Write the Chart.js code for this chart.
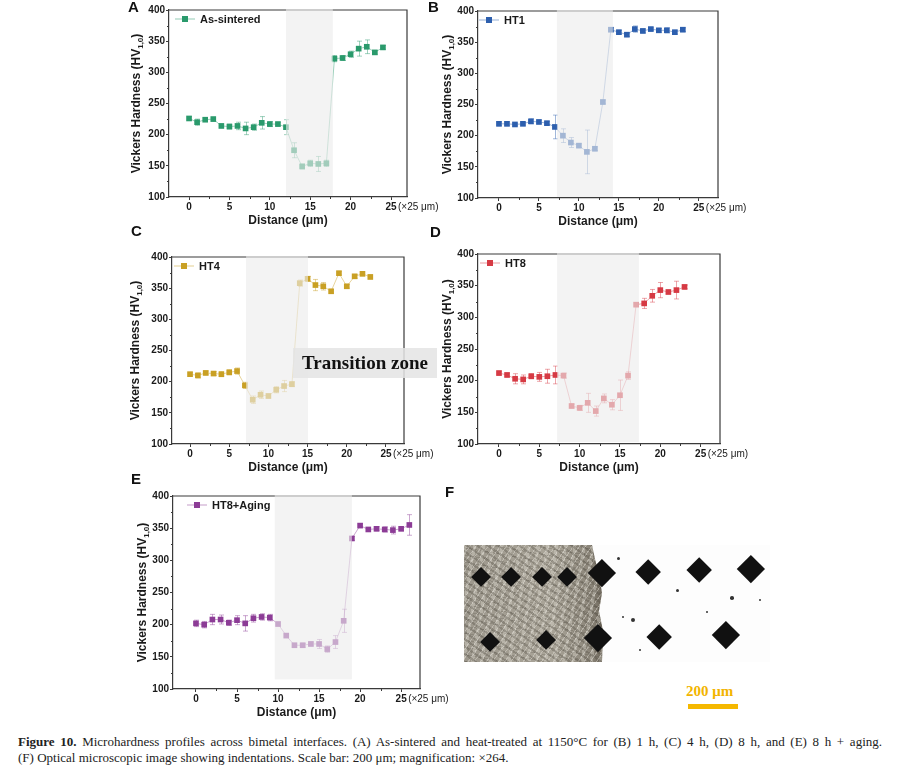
<!DOCTYPE html>
<html>
<head>
<meta charset="utf-8">
<script src="https://cdn.jsdelivr.net/npm/chart.js@4.4.1/dist/chart.umd.min.js"></script>
<style>
html,body{margin:0;padding:0;background:#fff;}
body{width:901px;height:781px;position:relative;overflow:hidden;font-family:"Liberation Sans",Arial,sans-serif;}
canvas{position:absolute;}
.letter{position:absolute;font:bold 15px "Liberation Sans",Arial,sans-serif;color:#111;line-height:15px;}
#tz{position:absolute;left:293px;top:348px;width:144px;height:30px;background:rgba(228,228,228,0.85);
	font:bold 19px "Liberation Serif","Times New Roman",serif;color:#111;line-height:30px;text-align:center;z-index:5;}
#micro{position:absolute;left:464px;top:545px;width:306px;height:117px;background:#fdfdfd;overflow:hidden;}
#steel{position:absolute;left:0;top:0;width:145px;height:117px;
	clip-path:polygon(0 0,128px 0,131px 14px,135px 30px,138px 48px,135px 66px,139px 86px,138px 117px,0 117px);
	background:
		repeating-linear-gradient(35deg,rgba(70,65,55,.28) 0 2px,transparent 2px 6px),
		repeating-linear-gradient(-55deg,rgba(235,232,225,.4) 0 1px,transparent 1px 5px),
		repeating-linear-gradient(100deg,rgba(225,222,212,.35) 0 3px,transparent 3px 9px),
		repeating-linear-gradient(10deg,rgba(80,75,65,.22) 0 1px,transparent 1px 7px),
		linear-gradient(90deg,#9c978c 0%,#aaa599 60%,#8a8478 88%,#5e574b 100%);}
.dia{position:absolute;background:#111;transform:rotate(45deg);}
.speck{position:absolute;background:#333;border-radius:50%;}
#sbText{position:absolute;left:686px;top:683px;font:bold 15px "Liberation Serif","Times New Roman",serif;color:#f2b400;}
#sbBar{position:absolute;left:688px;top:704px;width:50px;height:5px;background:#f5b800;}
.cap{position:absolute;left:18px;font:13px "Liberation Serif","Times New Roman",serif;color:#222;line-height:16px;white-space:nowrap;}
#cap1{top:734px;width:864px;text-align:justify;text-align-last:justify;white-space:normal;}
#cap2{top:750px;}
</style>
</head>
<body>
<canvas id="cA" width="330" height="232" style="left:122px;top:0px"></canvas>
<canvas id="cB" width="330" height="232" style="left:428px;top:0px"></canvas>
<canvas id="cC" width="325" height="240" style="left:122px;top:240px"></canvas>
<canvas id="cD" width="330" height="240" style="left:428px;top:240px"></canvas>
<canvas id="cE" width="340" height="245" style="left:122px;top:480px"></canvas>

<div class="letter" style="left:128px;top:-1px">A</div>
<div class="letter" style="left:428px;top:-1px">B</div>
<div class="letter" style="left:131px;top:223px">C</div>
<div class="letter" style="left:430px;top:224px">D</div>
<div class="letter" style="left:131px;top:471px">E</div>
<div class="letter" style="left:445px;top:484px">F</div>

<div id="tz">Transition zone</div>

<div id="micro"><div id="steel"></div></div>
<div id="sbText">200 μm</div>
<div id="sbBar"></div>

<div class="cap" id="cap1"><b>Figure 10.</b> Microhardness profiles across bimetal interfaces. (A) As-sintered and heat-treated at 1150°C for (B) 1 h, (C) 4 h, (D) 8 h, and (E) 8 h + aging.</div>
<div class="cap" id="cap2">(F) Optical microscopic image showing indentations. Scale bar: 200 μm; magnification: ×264.</div>

<script>
// Microhardness profiles, five panels
const xTicks = [0, 5, 10, 15, 20, 25];
const xMinor = [2.5, 7.5, 12.5, 17.5, 22.5];
const yTicks = [100, 150, 200, 250, 300, 350, 400];
const yMinor = [125, 175, 225, 275, 325, 375];

// (A) As-sintered
const distA = [0,1,2,3,4,5,6,7,8,9,10,11,12,13,14,15,16,17,18,19,20,21,22,23,24];
const hvA   = [226,220,224,225,214,213,214,210,212,219,217,217,212,175,149,154,153,154,322,323,329,338,341,332,340];
const errA  = [3,5,3,3,3,4,6,10,5,10,4,3,12,12,4,5,12,5,5,4,5,12,11,3,3];
const bandA = [12.0, 17.8, 102];

// (B) HT1
const distB = [0,1,2,3,4,5,6,7,8,9,10,11,12,13,14,15,16,17,18,19,20,21,22,23];
const hvB   = [219,219,218,219,223,222,220,214,200,189,184,174,179,254,370,366,362,371,368,371,369,369,366,370];
const errB  = [3,3,2,2,4,3,3,19,11,8,3,35,3,3,3,3,3,5,3,2,3,4,3,3];
const bandB = [7.25, 14.25, 100];

// (C) HT4
const distC = [0,1,2,3,4,5,6,7,8,9,10,11,12,13,14,15,16,17,18,19,20,21,22,23];
const hvC   = [212,210,214,213,212,215,217,194,171,179,177,187,193,196,358,365,355,353,345,374,353,369,373,368];
const errC  = [3,4,3,3,4,4,5,5,6,6,3,5,9,4,5,4,9,6,3,3,3,3,3,3];
const bandC = [7.15, 15.05, 100];

// (D) HT8
const distD = [0,1,2,3,4,5,6,7,8,9,10,11,12,13,14,15,16,17,18,19,20,21,22,23];
const hvD   = [212,209,203,202,207,206,207,209,208,160,157,165,152,172,162,177,208,320,322,334,343,340,343,348];
const errD  = [3,3,8,7,4,7,11,14,4,3,4,15,8,7,8,24,6,3,8,10,12,3,14,3];
const bandD = [7.2, 17.35, 103];

// (E) HT8+Aging
const distE = [0,1,2,3,4,5,6,7,8,9,10,11,12,13,14,15,16,17,18,19,20,21,22,23,24,25,26];
const hvE   = [202,200,208,208,203,207,202,210,212,211,201,183,168,168,170,170,162,173,206,334,354,348,349,348,347,349,355];
const errE  = [5,5,8,7,4,7,12,6,5,5,3,3,3,3,3,7,5,10,18,3,3,3,3,4,6,3,16];
const bandE = [9.6, 19.0, 115];

const FONT = '"Liberation Sans", Arial, sans-serif';
const AXIS = '#3a3a3a';
const TEXT = '#1a1a1a';

function rgba(hex, a){
	const n = parseInt(hex.slice(1), 16);
	return `rgba(${n>>16&255},${n>>8&255},${n&255},${a})`;
}

const panels = [
	{ id:'cA', label:'As-sintered', color:'#2a9a6c', xs:distA, ys:hvA, err:errA, band:bandA, xmin:-2.48, xmax:26.98,
	  cl:122, ct:0, cw:330, ch:232, pl:169, pt:10, pr:407, pb:197, yTitleOff:32, legOff:6 },
	{ id:'cB', label:'HT1', color:'#2d5fae', xs:distB, ys:hvB, err:errB, band:bandB, xmin:-2.62, xmax:27.4,
	  cl:428, ct:0, cw:330, ch:232, pl:478, pt:11, pr:718, pb:198, yTitleOff:30, legOff:1 },
	{ id:'cC', label:'HT4', color:'#c9a024', xs:distC, ys:hvC, err:errC, band:bandC, xmin:-2.3, xmax:27.3,
	  cl:122, ct:240, cw:325, ch:240, pl:172, pt:257, pr:404, pb:444, yTitleOff:36, legOff:2 },
	{ id:'cD', label:'HT8', color:'#d63a44', xs:distD, ys:hvD, err:errD, band:bandD, xmin:-2.6, xmax:27.4,
	  cl:428, ct:240, cw:330, ch:240, pl:478, pt:254, pr:720, pb:444, yTitleOff:30, legOff:2 },
	{ id:'cE', label:'HT8+Aging', color:'#8c3c96', xs:distE, ys:hvE, err:errE, band:bandE, xmin:-2.8, xmax:27.3,
	  cl:122, ct:480, cw:340, ch:245, pl:173, pt:496, pr:420, pb:689, yTitleOff:30, legOff:14 }
];

function drawYTitle(ctx, cx, cy){
	const p1 = 'Vickers Hardness (HV', p2 = '1,0', p3 = ')';
	const main = 'bold 12px ' + FONT, sub = 'bold 8px ' + FONT;
	ctx.save();
	ctx.translate(cx, cy);
	ctx.rotate(-Math.PI/2);
	ctx.font = main; const w1 = ctx.measureText(p1).width, w3 = ctx.measureText(p3).width;
	ctx.font = sub; const w2 = ctx.measureText(p2).width;
	let sx = -(w1 + w2 + w3)/2;
	ctx.fillStyle = TEXT; ctx.textAlign = 'left'; ctx.textBaseline = 'middle';
	ctx.font = main; ctx.fillText(p1, sx, 0); sx += w1;
	ctx.font = sub; ctx.fillText(p2, sx, 4); sx += w2;
	ctx.font = main; ctx.fillText(p3, sx, 0);
	ctx.restore();
}

function makeDecor(p){
	return {
		id: 'decor',
		beforeDatasetsDraw(chart){
			const { ctx, chartArea:a, scales:{ x, y } } = chart;
			ctx.save();
			// top + right frame
			ctx.strokeStyle = AXIS; ctx.lineWidth = 1.2;
			ctx.beginPath();
			ctx.moveTo(a.left, a.top); ctx.lineTo(a.right, a.top); ctx.lineTo(a.right, a.bottom);
			ctx.stroke();
			// minor ticks
			ctx.lineWidth = 1;
			ctx.beginPath();
			xMinor.forEach(v => { const px = Math.round(x.getPixelForValue(v)) + 0.5; ctx.moveTo(px, a.bottom); ctx.lineTo(px, a.bottom + 2); });
			yMinor.forEach(v => { const py = Math.round(y.getPixelForValue(v)) + 0.5; ctx.moveTo(a.left, py); ctx.lineTo(a.left - 2, py); });
			ctx.stroke();
			// error bars
			ctx.strokeStyle = rgba(p.color, 0.45); ctx.lineWidth = 1;
			ctx.beginPath();
			p.xs.forEach((v, i) => {
				const px = Math.round(x.getPixelForValue(v)) + 0.5;
				const y1 = y.getPixelForValue(p.ys[i] + p.err[i]);
				const y2 = y.getPixelForValue(p.ys[i] - p.err[i]);
				ctx.moveTo(px, y1); ctx.lineTo(px, y2);
				ctx.moveTo(px - 2.5, y1); ctx.lineTo(px + 2.5, y1);
				ctx.moveTo(px - 2.5, y2); ctx.lineTo(px + 2.5, y2);
			});
			ctx.stroke();
			ctx.restore();
		},
		afterDatasetsDraw(chart){
			const { ctx, chartArea:a, scales:{ x, y } } = chart;
			const x1 = x.getPixelForValue(p.band[0]), x2 = x.getPixelForValue(p.band[1]);
			const yb = Math.min(y.getPixelForValue(p.band[2]), a.bottom - 1);
			ctx.save();
			ctx.fillStyle = 'rgba(236,236,236,0.62)';
			ctx.fillRect(x1, a.top - 1, x2 - x1, yb - a.top + 1);
			ctx.restore();
		},
		afterDraw(chart){
			const { ctx, chartArea:a, scales:{ x } } = chart;
			ctx.save();
			// axis titles
			drawYTitle(ctx, a.left - p.yTitleOff, (a.top + a.bottom)/2);
			ctx.fillStyle = TEXT; ctx.textAlign = 'center'; ctx.textBaseline = 'middle';
			ctx.font = 'bold 12px ' + FONT;
			ctx.fillText('Distance (μm)', (a.left + a.right)/2, a.bottom + 24);
			// unit after last tick
			ctx.textAlign = 'left';
			ctx.font = '10px ' + FONT;
			ctx.fillText('(×25 μm)', x.getPixelForValue(25) + 7, a.bottom + 10);
			// legend
			const lx = a.left + p.legOff, ly = a.top + 9;
			ctx.strokeStyle = rgba(p.color, 0.5); ctx.lineWidth = 1;
			ctx.beginPath(); ctx.moveTo(lx, ly); ctx.lineTo(lx + 20, ly); ctx.stroke();
			ctx.fillStyle = p.color;
			ctx.fillRect(lx + 7, ly - 3, 6, 6);
			ctx.fillStyle = TEXT; ctx.font = 'bold 11px ' + FONT; ctx.textBaseline = 'middle';
			ctx.fillText(p.label, lx + 25, ly + 0.5);
			ctx.restore();
		}
	};
}

function buildChart(p){
	const data = p.xs.map((v, i) => ({ x: v, y: p.ys[i] }));
	const axisCommon = {
		grid: { display:true, drawOnChartArea:false, drawTicks:true, tickLength:3, color:AXIS, lineWidth:1 },
		border: { display:true, color:AXIS, width:1.2 },
		ticks: { font:{ family:FONT, size:10, weight:'bold' }, color:TEXT, padding:1, autoSkip:false, maxRotation:0 }
	};
	new Chart(document.getElementById(p.id), {
		type: 'line',
		data: { datasets: [{
			label: p.label,
			data,
			borderColor: rgba(p.color, 0.45),
			borderWidth: 1,
			pointStyle: 'rect',
			pointRadius: 4,
			pointBackgroundColor: p.color,
			pointBorderColor: p.color,
			pointBorderWidth: 0,
			tension: 0
		}]},
		options: {
			responsive: false,
			animation: false,
			events: [],
			layout: { padding: { left:0, top:p.pt - p.ct, right:(p.cl + p.cw) - p.pr, bottom:0 } },
			plugins: { legend:{ display:false }, tooltip:{ enabled:false } },
			scales: {
				x: Object.assign({}, axisCommon, {
					type: 'linear', min: p.xmin, max: p.xmax,
					afterBuildTicks: s => { s.ticks = xTicks.map(v => ({ value:v })); },
					afterFit: s => { s.height = (p.ct + p.ch) - p.pb; }
				}),
				y: Object.assign({}, axisCommon, {
					min: 100, max: 400,
					afterBuildTicks: s => { s.ticks = yTicks.map(v => ({ value:v })); },
					afterFit: s => { s.width = p.pl - p.cl; }
				})
			}
		},
		plugins: [makeDecor(p)]
	});
}

panels.forEach(buildChart);

// (F) sketch of the micrograph: indentation diamonds [cx, cy, half-diagonal]
const indents = [
	[481,577,10],[511,577,10],[542,577,10],[567,577,10],[602,573,14],[648,572,13],[699,570,13],[751,569,14],
	[490,642,10],[546,640,10],[598,638,14],[659,637,13],[726,635,14]
];
const specks = [[618,558,1.5],[633,620,2],[677,590,1.5],[732,598,1.8],[623,617,1.2],[707,612,1.2],[760,600,1],[640,650,1]];
const micro = document.getElementById('micro');
indents.forEach(([cx, cy, h]) => {
	const s = h * Math.SQRT2, d = document.createElement('div');
	d.className = 'dia';
	d.style.left = (cx - 464 - s/2) + 'px'; d.style.top = (cy - 545 - s/2) + 'px';
	d.style.width = s + 'px'; d.style.height = s + 'px';
	micro.appendChild(d);
});
specks.forEach(([cx, cy, r]) => {
	const d = document.createElement('div');
	d.className = 'speck';
	d.style.left = (cx - 464 - r) + 'px'; d.style.top = (cy - 545 - r) + 'px';
	d.style.width = 2*r + 'px'; d.style.height = 2*r + 'px';
	micro.appendChild(d);
});
</script>
</body>
</html>
